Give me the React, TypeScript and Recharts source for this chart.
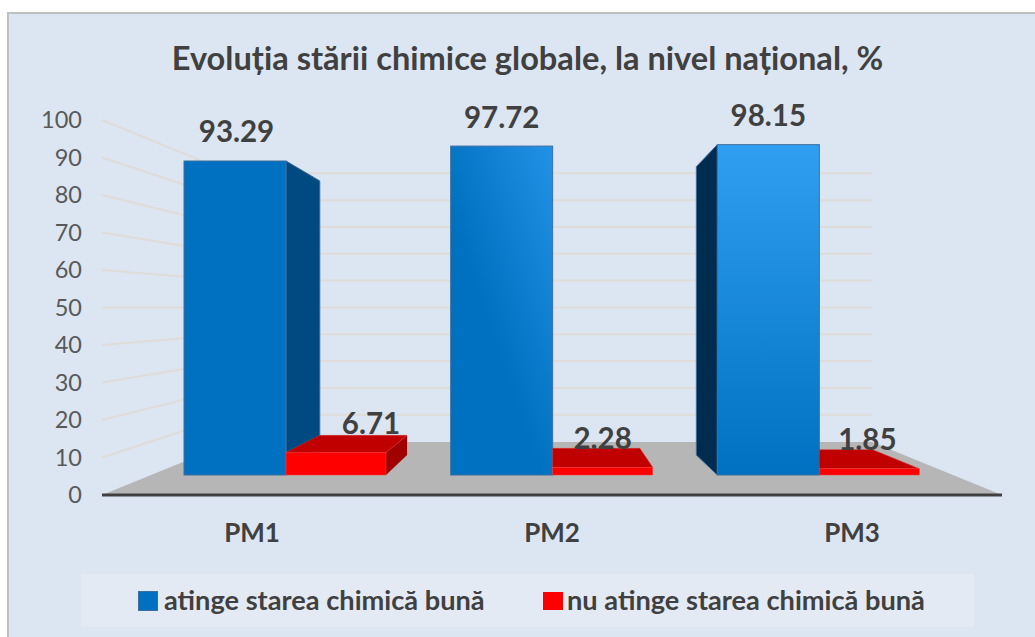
import React from 'react';
import { BarChart, Bar, XAxis, YAxis, CartesianGrid, ReferenceArea, Legend, LabelList } from 'recharts';

const categories = ['PM1', 'PM2', 'PM3'];
const atingeValues = [93.29, 97.72, 98.15];
const nuAtingeValues = [6.71, 2.28, 1.85];
const blueLabelNudge = [1.5, 0, 0];
const redLabelNudge = [35, 0, -2];
const yTicks = [0, 10, 20, 30, 40, 50, 60, 70, 80, 90, 100];

const chartData = categories.map((name, i) => ({
    name,
    atinge: atingeValues[i],
    nuAtinge: nuAtingeValues[i],
}));

const FONT = 'Lato, "Open Sans", sans-serif';
const VP_X = 552;
const VP_Y = 318;
const DEPTH = 0.873; // how far the back of a bar shrinks toward the vanishing point
const WALL_VP_Y = 307.3;
const WALL = 0.7152;
const INSET = 130;

const backX = (x: number) => VP_X + (x - VP_X) * DEPTH;
const backY = (y: number) => VP_Y + (y - VP_Y) * DEPTH;
const pts = (list: number[][]) => list.map((p) => p.join(',')).join(' ');

const BlueBar = (props: any) => {
    const { x, y, width, height, index } = props;
    const r = x + width;
    const b = y + height;
    const isLeft = r < VP_X - 5;
    const isRight = x > VP_X + 5;
    return (
        <g>
            {isLeft && (
                <polygon
                    points={pts([[r, y], [backX(r), backY(y)], [backX(r), backY(b)], [r, b]])}
                    fill="#004A82"
                    stroke="#3B6A9A"
                />
            )}
            {isRight && (
                <polygon
                    points={pts([[x, y], [backX(x), backY(y)], [backX(x), backY(b)], [x, b]])}
                    fill="#002D4F"
                    stroke="#3B6A9A"
                />
            )}
            <rect x={x} y={y} width={width} height={height} fill={`url(#blue${index})`} stroke="#3F6F9F" strokeWidth={1} />
        </g>
    );
};

const RedBar = (props: any) => {
    const { x, y, width, height } = props;
    const r = x + width;
    const b = y + height;
    const topLeftBack = Math.max(x, backX(x));
    const top = [[x, y], [r, y], [backX(r), backY(y)], [topLeftBack, backY(y)]];
    return (
        <g>
            {r < VP_X && (
                <polygon points={pts([[r, y], [backX(r), backY(y)], [backX(r), backY(b)], [r, b]])} fill="#A00000" />
            )}
            <polygon points={pts(top)} fill="#C00000" stroke="#D83030" strokeWidth={0.5} />
            <rect x={x} y={y} width={width} height={height} fill="#FF0000" stroke="#FF3B3B" strokeWidth={0.5} />
        </g>
    );
};

const FloorShape = (props: any) => {
    const { x, y, width, height } = props;
    return (
        <polygon
            points={pts([[x, y + height], [x + INSET, y], [x + width - INSET, y], [x + width, y + height]])}
            fill="#B6B6B6"
        />
    );
};

const WallLine = (props: any) => {
    const { x1, x2, y1, index } = props;
    if (y1 > 490) return <g key={index} />;
    const by = WALL_VP_Y + (y1 - WALL_VP_Y) * WALL;
    return (
        <polyline
            key={index}
            points={pts([[x1, y1], [x1 + INSET, by], [x2 - INSET, by]])}
            fill="none"
            stroke="#DFDBD8"
            strokeWidth={2}
        />
    );
};

const ValueLabel = (props: any) => {
    const { x, y, width, value, index, nudge } = props;
    return (
        <text
            x={x + width / 2 + nudge[index]}
            y={y - 30}
            textAnchor="middle"
            dominantBaseline="central"
            fontFamily={FONT}
            fontSize={29.5}
            fontWeight={700}
            fill="#404040"
        >
            {value}
        </text>
    );
};

const LegendBox = () => (
    <div
        style={{
            width: 893,
            height: 53,
            background: '#E3EAF4',
            position: 'relative',
            fontFamily: FONT,
            fontSize: 27.2,
            fontWeight: 700,
            color: '#404040',
        }}
    >
        <div style={{ position: 'absolute', left: 57, top: 17, width: 20, height: 20, background: '#0070C0', border: '1px solid #3F6F9F', boxSizing: 'border-box' }} />
        <span style={{ position: 'absolute', left: 83, top: 11, whiteSpace: 'nowrap', lineHeight: '30px' }}>atinge starea chimică bună</span>
        <div style={{ position: 'absolute', left: 462, top: 18, width: 20, height: 18, background: '#FF0000' }} />
        <span style={{ position: 'absolute', left: 486, top: 11, whiteSpace: 'nowrap', lineHeight: '30px' }}>nu atinge starea chimică bună</span>
    </div>
);

export default function App() {
    return (
        <div style={{ position: 'absolute', left: 0, top: 0, width: 1035, height: 637, background: '#fff', overflow: 'hidden' }}>
            <div
                style={{
                    position: 'absolute',
                    left: 7,
                    top: 12,
                    right: 0,
                    bottom: 0,
                    background: '#DCE6F2',
                    borderLeft: '2px solid #BFBFBF',
                    borderTop: '2px solid #BFBFBF',
                }}
            />
            <div
                style={{
                    position: 'absolute',
                    left: 0,
                    top: 38,
                    width: 1055,
                    textAlign: 'center',
                    fontFamily: FONT,
                    fontSize: 32.6,
                    fontWeight: 700,
                    color: '#404040',
                    lineHeight: '40px',
                    whiteSpace: 'nowrap',
                }}
            >
                Evoluția stării chimice globale, la nivel național, %
            </div>
            <div style={{ position: 'absolute', left: 0, top: 0 }}>
                <BarChart
                    width={1035}
                    height={637}
                    data={chartData}
                    margin={{ top: 120, right: 33, bottom: 10, left: 0 }}
                    barGap={0}
                >
                    <defs>
                        <linearGradient id="blue0" x1="0" y1="0" x2="0" y2="1">
                            <stop offset="0%" stopColor="#0070C0" />
                            <stop offset="100%" stopColor="#0070C0" />
                        </linearGradient>
                        <linearGradient id="blue1" x1="1" y1="0" x2="0.45" y2="0.6">
                            <stop offset="0%" stopColor="#2192E6" />
                            <stop offset="100%" stopColor="#0070C0" />
                        </linearGradient>
                        <linearGradient id="blue2" x1="0" y1="0" x2="0" y2="1">
                            <stop offset="0%" stopColor="#309FF2" />
                            <stop offset="100%" stopColor="#0070C0" />
                        </linearGradient>
                    </defs>
                    <ReferenceArea xAxisId="axis" yAxisId="axis" y1={0} y2={14.13} shape={FloorShape} fillOpacity={1} />
                    <CartesianGrid xAxisId="axis" yAxisId="axis" vertical={false} horizontal={WallLine} syncWithTicks />
                    <XAxis
                        xAxisId="axis"
                        dataKey="name"
                        height={79}
                        tickSize={0}
                        tickMargin={29}
                        axisLine={{ stroke: '#404040', strokeWidth: 3 }}
                        tick={{ fontFamily: FONT, fontSize: 26, fontWeight: 700, fill: '#404040' }}
                    />
                    <XAxis xAxisId="front" dataKey="name" hide padding={{ left: 50, right: 50 }} />
                    <YAxis
                        yAxisId="axis"
                        width={102}
                        domain={[0, 100]}
                        ticks={yTicks}
                        interval={0}
                        tickSize={0}
                        tickMargin={20}
                        axisLine={false}
                        tick={{ fontFamily: FONT, fontSize: 23.5, fill: '#595959' }}
                    />
                    <YAxis yAxisId="front" hide domain={[-5.94, 105.47]} />
                    <Legend
                        verticalAlign="bottom"
                        height={53}
                        content={<LegendBox />}
                        wrapperStyle={{ left: 81, width: 893, height: 53, bottom: 10 }}
                    />
                    {/* keeps the visible value axis alive, the real bars sit on the "front" axes */}
                    <Bar xAxisId="axis" yAxisId="axis" dataKey="atinge" fill="none" shape={() => <g />} isAnimationActive={false} />
                    <Bar
                        xAxisId="front"
                        yAxisId="front"
                        dataKey="atinge"
                        name="atinge starea chimică bună"
                        fill="#0070C0"
                        barSize={102}
                        shape={BlueBar}
                        isAnimationActive={false}
                    >
                        <LabelList dataKey="atinge" content={<ValueLabel nudge={blueLabelNudge} />} />
                    </Bar>
                    <Bar
                        xAxisId="front"
                        yAxisId="front"
                        dataKey="nuAtinge"
                        name="nu atinge starea chimică bună"
                        fill="#FF0000"
                        barSize={100}
                        shape={RedBar}
                        isAnimationActive={false}
                    >
                        <LabelList dataKey="nuAtinge" content={<ValueLabel nudge={redLabelNudge} />} />
                    </Bar>
                </BarChart>
            </div>
        </div>
    );
}
